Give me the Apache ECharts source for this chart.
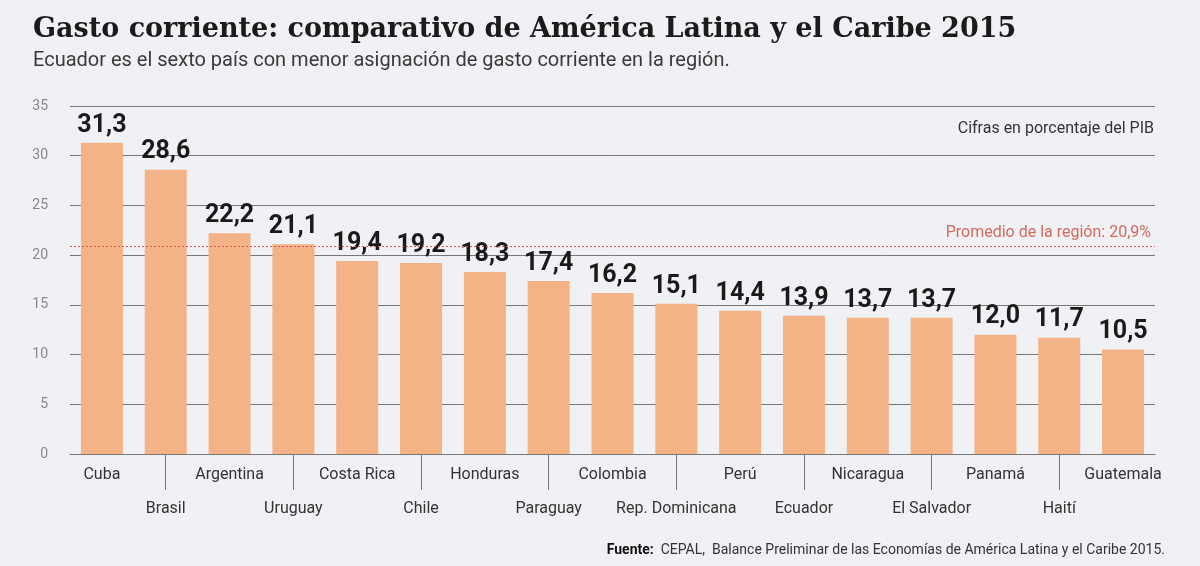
<!DOCTYPE html>
<html>
<head>
<meta charset="utf-8">
<script src="https://cdn.jsdelivr.net/npm/echarts@6/dist/echarts.min.js"></script>
<style>
  html, body { margin: 0; padding: 0; background: #f0f1f4; }
  #chart { width: 1200px; height: 566px; }
</style>
</head>
<body>
<!-- chart container -->
<div id="chart"></div>
<script>
// data
const paises = ["Cuba", "Brasil", "Argentina", "Uruguay", "Costa Rica", "Chile", "Honduras", "Paraguay",
  "Colombia", "Rep. Dominicana", "Perú", "Ecuador", "Nicaragua", "El Salvador", "Panamá", "Haití", "Guatemala"];
const gasto = [31.3, 28.6, 22.2, 21.1, 19.4, 19.2, 18.3, 17.4, 16.2, 15.1, 14.4, 13.9, 13.7, 13.7, 12.0, 11.7, 10.5];
const promedio = 20.9;
const yTicks = [0, 35, 5]; // min, max, interval

const fmt = v => v.toFixed(1).replace(".", ",");

const myChart = echarts.init(document.getElementById("chart"));
myChart.setOption({
  backgroundColor: "#f0f1f4",
  animation: false,
  grid: { left: 70, right: 45, top: 106, bottom: 112 },
  graphic: [
    {
      type: "text", left: 33, top: 16,
      style: { text: "Gasto corriente: comparativo de América Latina y el Caribe 2015",
        font: "bold 27px 'DejaVu Serif'", fill: "#1b1b1b" }
    },
    {
      type: "text", left: 33, top: 51,
      style: { text: "Ecuador es el sexto país con menor asignación de gasto corriente en la región.",
        font: "20px Roboto", fill: "#3a3a3a" }
    },
    {
      type: "text", right: 46, top: 121,
      style: { text: "Cifras en porcentaje del PIB", font: "16px Roboto", fill: "#333" }
    },
    {
      type: "text", right: 35, top: 543,
      style: {
        text: "{b|Fuente:}  CEPAL,  Balance Preliminar de las Economías de América Latina y el Caribe 2015.",
        font: "14px Roboto", fill: "#333",
        rich: { b: { fontWeight: "bold", fontSize: 14, fontFamily: "Roboto", fill: "#111" } }
      }
    }
  ],
  xAxis: {
    type: "category",
    data: paises,
    axisLine: { lineStyle: { color: "#777", width: 1 } },
    axisTick: {
      show: true,
      alignWithLabel: true,
      length: 36,
      interval: (i) => i % 2 === 1,
      lineStyle: { color: "#777", width: 1 }
    },
    axisLabel: {
      interval: 0,
      margin: 4,
      color: "#333",
      fontSize: 16,
      fontFamily: "Roboto",
      lineHeight: 34,
      formatter: (v, i) => (i % 2 === 1 ? "\n" + v : v)
    }
  },
  yAxis: {
    type: "value",
    min: yTicks[0],
    max: yTicks[1],
    interval: yTicks[2],
    axisLine: { show: false },
    axisTick: { show: false },
    axisLabel: { color: "#888", fontSize: 14, fontFamily: "Roboto", margin: 22 },
    splitLine: { lineStyle: { color: "#777", width: 1 } }
  },
  series: [
    {
      type: "bar",
      data: gasto,
      barWidth: 42,
      itemStyle: { color: "#f4b386" },
      label: {
        show: true,
        position: "top",
        distance: 5,
        color: "#1a1a1a",
        fontSize: 25,
        fontWeight: "bold",
        fontFamily: "Roboto",
        formatter: p => fmt(p.value)
      },
      markLine: {
        silent: true,
        symbol: "none",
        lineStyle: { color: "#e0564c", type: [2, 2], width: 1, opacity: 1 },
        label: {
          position: "insideEndTop",
          color: "#d36a5f",
          fontSize: 16,
          fontFamily: "Roboto",
          distance: [4, 5],
          formatter: "Promedio de la región: " + fmt(promedio) + "%"
        },
        data: [{ yAxis: promedio }]
      }
    }
  ]
});
</script>
</body>
</html>
